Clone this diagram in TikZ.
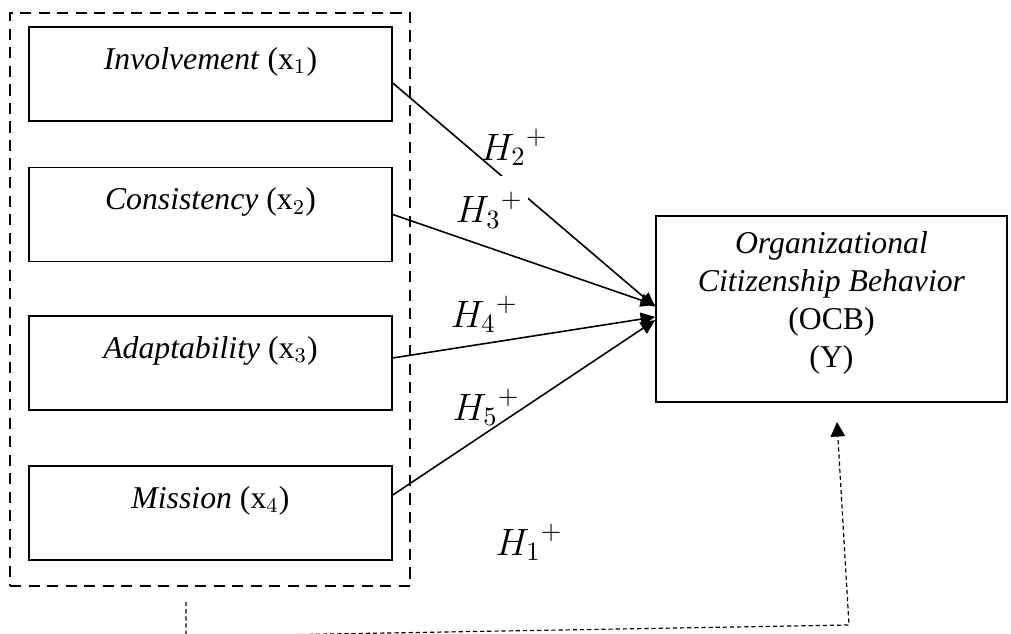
\documentclass[tikz,border=0pt]{standalone}
\usepackage{fontspec}
\setmainfont{Liberation Serif}
\usetikzlibrary{arrows.meta}
\definecolor{darkline}{HTML}{000000}
\tikzset{
  factor/.style={
    rectangle,
    draw=darkline,
    line width=0.6pt,
    minimum width=137.2pt,
    minimum height=35.5pt,
    text depth=12pt,
    font=\fontsize{12}{14.4}\selectfont
  },
  outcome/.style={factor, minimum width=132.7pt, minimum height=70.3pt, align=center, text depth=7pt},
  groupbox/.style={rectangle, draw=darkline, line width=0.9pt, dash pattern=on 4.2pt off 2.8pt, minimum width=151.2pt, minimum height=216.6pt},
  hyp/.style={anchor=base west, inner sep=0pt, font=\fontsize{14}{16}\selectfont},
  flow/.style={-{Triangle[length=5.5pt, width=5pt]}, line width=0.6pt, draw=darkline},
  dotflow/.style={-{Triangle[length=5.5pt, width=5.5pt]}, line width=0.45pt, draw=darkline, dash pattern=on 1.6pt off 1.1pt}
}

\begin{document}
\begin{tikzpicture}[x=0.378pt, y=-0.378pt]
\useasboundingbox (0,0) rectangle (1011,634);

% Culture dimensions.
\node[groupbox] (culture) at (210,299.5) {};
\node[factor] (inv) at (210.5,74) {\textit{Involvement} (\(\mathrm{x}_1\))};
\node[factor] (cons) at (210.5,214.5) {\textit{Consistency} (\(\mathrm{x}_2\))};
\node[factor] (adap) at (210.5,363) {\textit{Adaptability} (\(\mathrm{x}_3\))};
\node[factor] (miss) at (210.5,513) {\textit{Mission} (\(\mathrm{x}_4\))};

% Outcome.
\node[outcome] (ocb) at (831.5,309) {\textit{Organizational}\\\textit{Citizenship Behavior}\\(OCB)\\(Y)};

% Partial paths.
\draw[flow] ([yshift=-3.4pt]inv.east) -- ([yshift=0.8pt]ocb.west);
\draw[flow] (cons.east) -- ([yshift=1.5pt]ocb.west);
\draw[flow] ([yshift=1.9pt]adap.east) -- ([yshift=-3pt]ocb.west);
\draw[flow] ([yshift=6.8pt]miss.east) -- ([yshift=-4.2pt]ocb.west);

% Simultaneous path.
\coordinate (h1start) at (186,602);
\coordinate (h1low) at (186,636.5);
\coordinate (h1turn) at (849,625);
\coordinate (h1end) at (837,422);
\draw[dotflow] (h1start) -- (h1low) -- (h1turn) -- (h1end);

% Hypothesis labels.
\node[hyp] (h2) at (480,160) {\({H_2}^{+}\)};
\node[hyp, fill=white, text width=0.96cm, text height=0.62cm, text depth=0.07cm] (h3) at (455,223) {\({H_3}^{+}\)};
\node[hyp] (h4) at (450,327) {\({H_4}^{+}\)};
\node[hyp] (h5) at (452,420) {\({H_5}^{+}\)};
\node[hyp] (h1) at (495,555) {\({H_1}^{+}\)};

\end{tikzpicture}
\end{document}
